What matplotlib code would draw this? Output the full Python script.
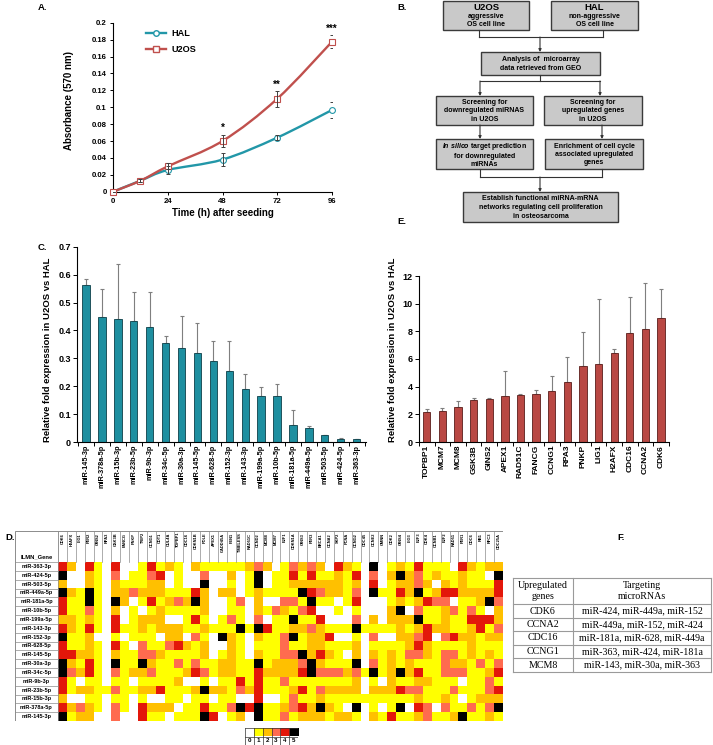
import numpy as np
import matplotlib
matplotlib.use('Agg')
import matplotlib.pyplot as plt
from matplotlib.colors import ListedColormap
from matplotlib.patches import Rectangle, PathPatch
from matplotlib.path import Path
from matplotlib.lines import Line2D

plt.rcParams['font.family'] = 'Liberation Sans'
plt.rcParams['font.weight'] = 'bold'
plt.rcParams['mathtext.fontset'] = 'custom'
plt.rcParams['mathtext.it'] = 'Liberation Sans:italic:bold'
plt.rcParams['mathtext.rm'] = 'Liberation Sans:bold'

# ---- panel A: growth curve
time_h = [0, 12, 24, 48, 72, 96]
hal = [0, 0.013, 0.0257, 0.038, 0.064, 0.0967]
hal_err = [0, 0.002, 0.0043, 0.0075, 0.0034, 0.009]
u2os = [0, 0.013, 0.030, 0.060, 0.110, 0.1775]
u2os_err = [0, 0.002, 0.0035, 0.0075, 0.0095, 0.008]
stars = ['*', '**', '***']
star_x = [48, 72, 96]
star_y = [0.075, 0.126, 0.193]

# ---- panel C: miRNA qPCR
mirnas = ['miR-145-3p', 'miR-378a-5p', 'miR-15b-3p', 'miR-23b-5p', 'miR-9b-3p', 'miR-34c-5p',
          'miR-30a-3p', 'miR-145-5p', 'miR-628-5p', 'miR-152-3p', 'miR-143-3p', 'miR-199a-5p',
          'miR-10b-5p', 'miR-181a-5p', 'miR-449a-5p', 'miR-503-5p', 'miR-424-5p', 'miR-363-3p']
mirna_fold = [0.564, 0.447, 0.442, 0.435, 0.412, 0.356, 0.337, 0.318, 0.290, 0.256,
              0.189, 0.166, 0.164, 0.062, 0.049, 0.024, 0.012, 0.0096]
mirna_err = [0.020, 0.102, 0.196, 0.102, 0.125, 0.023, 0.114, 0.109, 0.071, 0.105,
             0.054, 0.031, 0.044, 0.053, 0.007, 0.001, 0.001, 0.001]

# ---- panel E: gene qPCR
genes = ['TOPBP1', 'MCM7', 'MCM8', 'GSK3B', 'GINS2', 'APEX1', 'RAD51C', 'FANCG',
         'CCNG1', 'RPA3', 'PNKP', 'LIG1', 'H2AFX', 'CDC16', 'CCNA2', 'CDK6']
gene_fold = [2.19, 2.27, 2.55, 3.06, 3.11, 3.33, 3.42, 3.47, 3.66, 4.36, 5.49, 5.66, 6.46, 7.88, 8.19, 8.99]
gene_err = [0.22, 0.19, 0.41, 0.14, 0.09, 1.78, 0.03, 0.26, 1.11, 1.81, 2.44, 4.70, 0.26, 2.60, 3.30, 2.09]

# ---- panel D: heatmap
hm_genes = ['CDK6', 'H2AFX', 'LIG1', 'PER2', 'GINS2', 'RPA3', 'GSK3B', 'FANCG', 'PNKP', 'TRIP2',
            'CCNG1', 'CDT1', 'CUL4A', 'TOPBP1', 'CDC16', 'CDKN1B', 'POLE', 'APEX1', 'GADD45A', 'FEN1',
            'TIMELESS', 'RAD51C', 'CCND2', 'MCM8', 'MCM7', 'E2F1', 'CDKN1A', 'GINS3', 'PER3', 'BRCA1',
            'CCNA2', 'SKP2', 'PCNA', 'CCNG2', 'CDC45', 'CCNE2', 'GMNN', 'CDK2', 'GINS4', 'LIG3',
            'E2F3', 'CDK4', 'CCNB1', 'E2F2', 'RAD51', 'PER1', 'CDC6', 'RB1', 'RFC3', 'CDC25A']
hm_mirnas = ['miR-363-3p', 'miR-424-5p', 'miR-503-5p', 'miR-449a-5p', 'miR-181a-5p', 'miR-10b-5p',
             'miR-199a-5p', 'miR-143-3p', 'miR-152-3p', 'miR-628-5p', 'miR-145-5p', 'miR-30a-3p',
             'miR-34c-5p', 'miR-9b-3p', 'miR-23b-5p', 'miR-15b-3p', 'miR-378a-5p', 'miR-145-3p']
hm_rows = [
    "42041040014121" "021111123201323204" "210501214111042122",
    "50021030113401" "003002015011414112" "140302523121121105",
    "20021021112201" "005001015011222222" "120401223202121114",
    "52151022322211" "142022012111154322" "130511425124422224",
    "41151052014123" "252001302003315110" "140001212433011253",
    "41131020101211" "112001102132134001" "010002503112313102",
    "22121040122200" "141013103011511400" "030202225112114442",
    "42141041121222" "112111515411223211" "151111212422112413",
    "51120010111022" "031052102113512240" "010300223403422122",
    "41121041031134" "212002101113112211" "120111124211112111",
    "44221021133211" "112012102113352421" "020212133213312121",
    "52141051152113" "131122115122235211" "150312121113221313",
    "53241031223111" "243122114222245333" "231512524113331124",
    "41011011011112" "001011414113111111" "120102112211101131",
    "41221131122411" "125221324111241322" "220222433111311134",
    "20011011010011" "011011004001311211" "111111112112101222",
    "42321031042220" "114113545112342521" "050101504303113135",
    "51220030041101" "115401205113122212" "210214112311251121",
]
hm_colors = ['#FFFFFF', '#FFFF00', '#FFC000', '#FF6B4F', '#E3170A', '#000000']

# ---- panel F: table
tab_genes = ['CDK6', 'CCNA2', 'CDC16', 'CCNG1', 'MCM8']
tab_mirs = ['miR-424, miR-449a, miR-152', 'miR-449a, miR-152, miR-424',
            'miR-181a, miR-628, miR-449a', 'miR-363, miR-424, miR-181a',
            'miR-143, miR-30a, miR-363']

W, H = 713, 745
fig = plt.figure(figsize=(W / 100, H / 100), dpi=100)


def px_axes(l, t, r, b):
    return fig.add_axes([l / W, 1 - b / H, (r - l) / W, (b - t) / H])


def smooth_path(x, y):
    # smoothed line through the points (catmull-rom as beziers)
    pts = np.column_stack([x, y]).astype(float)
    verts, codes = [pts[0]], [Path.MOVETO]
    n = len(pts)
    for i in range(n - 1):
        p0 = pts[i - 1] if i > 0 else pts[i]
        p1, p2 = pts[i], pts[i + 1]
        p3 = pts[i + 2] if i + 2 < n else pts[i + 1]
        verts += [p1 + (p2 - p0) / 6, p2 - (p3 - p1) / 6, p2]
        codes += [Path.CURVE4] * 3
    return Path(verts, codes)


def style_bar_axes(ax):
    for s in ['top', 'right']:
        ax.spines[s].set_visible(False)
    for s in ['left', 'bottom']:
        ax.spines[s].set_linewidth(0.8)
    ax.tick_params(axis='y', direction='out', length=3, width=0.7, labelsize=6.5, pad=1.5)
    ax.tick_params(axis='x', which='major', length=0, pad=2)
    ax.tick_params(axis='x', which='minor', direction='out', length=3, width=0.7)


# A
teal = '#2297A8'
red = '#C0504D'
axA = px_axes(113, 22.7, 332, 191.7)
for vals, err, col, mk in [(hal, hal_err, teal, 'o'), (u2os, u2os_err, red, 's')]:
    axA.add_patch(PathPatch(smooth_path(time_h, vals), fill=False, edgecolor=col, lw=1.7, zorder=2))
    axA.plot(time_h, vals, ls='none', marker=mk, mfc='white', mec=col, ms=4.2, mew=0.8,
             zorder=3, clip_on=False)
    axA.errorbar(time_h, vals, yerr=err, fmt='none', ecolor='#404040', elinewidth=0.7,
                 capsize=1.6, capthick=0.7, zorder=4)
for s, x, y in zip(stars, star_x, star_y):
    axA.text(x, y, s, ha='center', va='center', fontsize=7)
axA.set_xlim(0, 96)
axA.set_ylim(0, 0.2)
axA.set_xticks([0, 24, 48, 72, 96])
yt = np.arange(0, 0.2001, 0.02)
axA.set_yticks(yt)
axA.set_yticklabels([f'{v:g}' for v in np.round(yt, 2)])
axA.tick_params(direction='out', length=2.5, width=0.7, labelsize=5.6, pad=2)
for s in ['top', 'right']:
    axA.spines[s].set_visible(False)
handles = [Line2D([], [], color=teal, marker='o', mfc='white', mec=teal, ms=4, lw=1.7),
           Line2D([], [], color=red, marker='s', mfc='white', mec=red, ms=4, lw=1.7)]
axA.legend(handles, ['HAL', 'U2OS'], loc='upper left', bbox_to_anchor=(0.12, 1.0), frameon=False,
           fontsize=6.6, handlelength=2.2, handletextpad=0.6, labelspacing=0.75, borderpad=0.2)

# C
axC = px_axes(77.3, 246.8, 366, 442)
xc = np.arange(len(mirnas))
axC.bar(xc, mirna_fold, width=0.46, color='#1E8FA0', edgecolor='#0D3F48', lw=0.6, zorder=2)
axC.errorbar(xc, mirna_fold, yerr=[np.zeros(len(xc)), mirna_err], fmt='none', ecolor='#7F7F7F',
             elinewidth=0.8, capsize=1.5, capthick=0.8, zorder=1)
axC.set_xlim(-0.55, 17.59)
axC.set_ylim(0, 0.7)
axC.set_yticks(np.arange(0, 0.71, 0.1))
axC.set_yticklabels(['0'] + [f'{v:.1f}' for v in np.arange(0.1, 0.71, 0.1)])
axC.set_xticks(xc)
axC.set_xticklabels(mirnas, rotation=90, fontsize=5.2)
axC.set_xticks(np.arange(-0.5, len(xc), 1), minor=True)
style_bar_axes(axC)

# E
axE = px_axes(419, 276, 669.3, 442)
xe = np.arange(len(genes))
axE.bar(xe, gene_fold, width=0.47, color='#B94843', edgecolor='#5A1E1B', lw=0.6, zorder=2)
axE.errorbar(xe, gene_fold, yerr=[np.zeros(len(xe)), gene_err], fmt='none', ecolor='#7F7F7F',
             elinewidth=0.8, capsize=1.5, capthick=0.8, zorder=1)
axE.set_xlim(-0.49, 15.53)
axE.set_ylim(0, 12)
axE.set_yticks(range(0, 13, 2))
axE.set_xticks(xe)
axE.set_xticklabels(genes, rotation=90, fontsize=6)
axE.set_xticks(np.arange(-0.5, len(xe), 1), minor=True)
style_bar_axes(axE)

# D heatmap
mat = np.array([[int(c) for c in r] for r in hm_rows])
ncol, nrow = len(hm_genes), len(hm_mirnas)
LW = 43 / 8.9
HH = 31 / 8.83
axD = px_axes(15, 531, 503, 721)
axD.imshow(mat, cmap=ListedColormap(hm_colors), vmin=-0.5, vmax=5.5, extent=(0, ncol, nrow, 0),
           aspect='auto', interpolation='nearest')
axD.set_xlim(-LW, ncol)
axD.set_ylim(nrow, -HH)
axD.axis('off')
gcol = '#8C8C8C'
for i in range(nrow + 1):
    axD.plot([-LW, 0], [i, i], color=gcol, lw=0.5)
for j in range(ncol + 1):
    axD.plot([j, j], [-HH, 0], color=gcol, lw=0.5)
axD.plot([0, 0], [-HH, nrow], color=gcol, lw=0.5)
axD.add_patch(Rectangle((-LW, -HH), LW + ncol, HH + nrow, fill=False, edgecolor=gcol, lw=0.7))
for i, name in enumerate(hm_mirnas):
    axD.text(-LW / 2, i + 0.5, name, ha='center', va='center', fontsize=4)
axD.text(-LW / 2, -0.6, 'ILMN_Gene', ha='center', va='center', fontsize=4.2)
for j, g in enumerate(hm_genes):
    axD.text(j + 0.5, -HH + 0.2, g, rotation=90, ha='center', va='top', fontsize=2.9)

# colour key
axK = px_axes(245, 728, 298, 745)
axK.imshow([list(range(6))], cmap=ListedColormap(hm_colors), vmin=-0.5, vmax=5.5,
           extent=(0, 6, 1, 0), aspect='auto', interpolation='nearest')
axK.set_xlim(0, 6)
axK.set_ylim(2, 0)
axK.axis('off')
for k in range(7):
    axK.plot([k, k], [0, 2], color='#333333', lw=0.5)
for yy in [0, 1, 2]:
    axK.plot([0, 6], [yy, yy], color='#333333', lw=0.5)
for k in range(6):
    axK.text(k + 0.5, 1.5, str(k), ha='center', va='center', fontsize=4.5)

# overlay in pixel units: flowchart B, table F, panel letters
axO = fig.add_axes([0, 0, 1, 1])
axO.set_xlim(0, W)
axO.set_ylim(H, 0)
axO.axis('off')

box_kw = dict(facecolor='#C9C9C9', edgecolor='#3A3A3A', lw=1.0)
boxes = [
    (443, 1, 529, 30, None),
    (551, 1, 638, 30, None),
    (481, 52, 600, 75, 'Analysis of  microarray\ndata retrieved from GEO'),
    (436, 96, 533, 125, 'Screening for\ndownregulated miRNAS\nin U2OS'),
    (544, 96, 642, 125, 'Screening for\nupregulated genes\nin U2OS'),
    (436, 139, 533, 169, r'$\mathit{In\ silico}$ target prediction' + '\nfor downregulated\nmiRNAs'),
    (545, 139, 643, 169, 'Enrichment of cell cycle\nassociated upregulated\ngenes'),
    (463, 192, 618, 222, 'Establish functional miRNA-mRNA\nnetworks regulating cell proliferation\nin osteosarcoma'),
]
for l, t, r, b, txt in boxes:
    axO.add_patch(Rectangle((l, t), r - l, b - t, **box_kw))
    if txt:
        axO.text((l + r) / 2, (t + b) / 2 + 0.5, txt, ha='center', va='center', fontsize=5,
                 linespacing=1.3)
for cx, title, sub in [(486, 'U2OS', 'aggressive'), (594.5, 'HAL', 'non-aggressive')]:
    axO.text(cx, 7.5, title, ha='center', va='center', fontsize=6.8)
    axO.text(cx, 16.5, sub, ha='center', va='center', fontsize=5)
    axO.text(cx, 25, 'OS cell line', ha='center', va='center', fontsize=5)

lc = '#333333'
seg = [((479, 30), (479, 37)), ((603, 30), (603, 37)), ((479, 37), (603, 37)),
       ((540, 75), (540, 81)), ((480, 81), (600, 81)),
       ((480, 169), (480, 177)), ((602, 169), (602, 177)), ((480, 177), (602, 177))]
for (x0, y0), (x1, y1) in seg:
    axO.plot([x0, x1], [y0, y1], color=lc, lw=0.8)
arrows = [((540, 37), (540, 52)), ((480, 81), (480, 96)), ((600, 81), (600, 96)),
          ((480, 125), (480, 139)), ((602, 125), (602, 139)), ((540, 177), (540, 192))]
for a, b in arrows:
    axO.annotate('', xy=b, xytext=a, arrowprops=dict(arrowstyle='-|>', color=lc, lw=0.8,
                                                     mutation_scale=4, shrinkA=0, shrinkB=0))

# table F
tc = '#9A9A9A'
tl, tr, tm = 513, 711, 573
hlines = [578, 604, 618, 631, 645, 658, 672]
for yy in hlines:
    axO.plot([tl, tr], [yy, yy], color=tc, lw=0.8)
for xx in [tl, tm, tr]:
    axO.plot([xx, xx], [hlines[0], hlines[-1]], color=tc, lw=0.8)
tfont = dict(family='Liberation Serif', fontweight='normal', fontsize=7.2, ha='center', va='center')
axO.text((tl + tm) / 2, 591, 'Upregulated\ngenes', linespacing=1.15, **tfont)
axO.text((tm + tr) / 2, 591, 'Targeting\nmicroRNAs', linespacing=1.15, **tfont)
for k, (g, m) in enumerate(zip(tab_genes, tab_mirs)):
    yc = (hlines[k + 1] + hlines[k + 2]) / 2
    axO.text((tl + tm) / 2, yc, g, **tfont)
    axO.text((tm + tr) / 2, yc, m, **tfont)

# axis titles placed in pixels
axO.text(69, 101, 'Absorbance (570 nm)', rotation=90, ha='center', va='center', fontsize=7)
axO.text(222.5, 213, 'Time (h) after seeding', ha='center', va='center', fontsize=7)
axO.text(47.5, 350, 'Relative fold expression in U2OS vs HAL', rotation=90, ha='center',
         va='center', fontsize=6.8)
axO.text(392.5, 350, 'Relative fold expression in U2OS vs HAL', rotation=90, ha='center',
         va='center', fontsize=6.8)

for lab, x, y in [('A.', 38, 7), ('B.', 397, 7), ('C.', 38, 247), ('E.', 397, 221),
                  ('D.', 5, 537), ('F.', 617, 537)]:
    axO.text(x, y, lab, ha='left', va='center', fontsize=6.8)

fig.savefig('out.png', dpi=100)
